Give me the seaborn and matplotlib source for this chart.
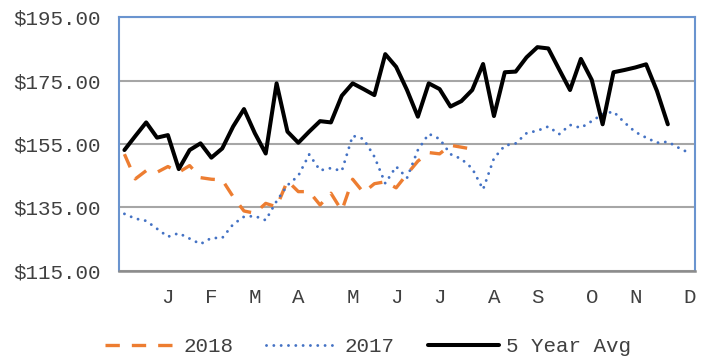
import matplotlib
matplotlib.use("Agg")
import matplotlib.pyplot as plt
import seaborn as sns
import pandas as pd

# Weekly slots across the year and the month initials shown under them
weeks = list(range(1, 54))
month_weeks = [5, 9, 13, 17, 22, 26, 30, 35, 39, 44, 48, 53]
month_labels = ["J", "F", "M", "A", "M", "J", "J", "A", "S", "O", "N", "D"]
price_ticks = [115, 135, 155, 175, 195]

# Weekly prices ($)
prices_2018 = [151.8, 144.0, 146.6, 146.1, 147.9, 146.1, 148.2, 144.4, 143.9, 143.7,
               138.4, 133.9, 133.2, 136.3, 135.2, 143.4, 140.0, 140.0, 135.8, 139.5,
               134.0, 143.9, 139.7, 142.5, 143.1, 141.2, 145.5, 149.6, 152.3, 151.9,
               154.6, 154.0, 153.4]

prices_2017 = [133.0, 131.5, 130.8, 128.3, 125.8, 126.9, 125.2, 123.5, 125.4, 125.4,
               129.7, 132.1, 132.3, 131.0, 137.0, 142.0, 145.0, 151.7, 146.7, 147.4,
               146.5, 157.6, 156.6, 151.0, 142.6, 147.9, 144.3, 153.1, 158.2, 156.6,
               151.8, 150.3, 147.3, 140.7, 150.5, 154.5, 155.2, 158.4, 159.2, 160.5,
               158.1, 161.0, 160.1, 162.2, 164.4, 165.2, 161.8, 158.8, 157.0, 155.4,
               155.7, 153.8, 152.1]

prices_5yr = [153.1, 157.5, 161.8, 157.0, 157.8, 147.1, 153.1, 155.2, 150.7, 153.6,
              160.5, 166.0, 158.4, 152.0, 174.1, 158.9, 155.4, 158.9, 162.2, 161.8,
              170.2, 174.1, 172.3, 170.4, 183.3, 179.3, 172.0, 163.6, 174.1, 172.3,
              166.8, 168.5, 172.0, 180.2, 163.8, 177.6, 177.8, 182.3, 185.5, 185.1,
              178.5, 172.0, 181.8, 175.2, 161.2, 177.6, 178.3, 179.1, 180.1, 171.7,
              161.2]

sns.set_theme(style="white")
plt.rcParams["font.family"] = ["Liberation Mono", "DejaVu Sans"]

text_color = "#404040"
fig = plt.figure(figsize=(7.07, 3.62), dpi=100)
ax = fig.add_axes([119 / 707, 1 - 271 / 362, 576 / 707, 254 / 362])


def weekly_frame(values):
    return pd.DataFrame({"week": weeks[:len(values)], "price": values})


sns.lineplot(data=weekly_frame(prices_2018), x="week", y="price", ax=ax,
             color="#ED7D31", lw=2.4, linestyle=(0, (4.3, 3.6)),
             label="2018", zorder=2)
sns.lineplot(data=weekly_frame(prices_2017), x="week", y="price", ax=ax,
             color="#4472C4", lw=2.1, linestyle=(0, (0.01, 2.5)),
             dash_capstyle="round", label="2017", zorder=3)
sns.lineplot(data=weekly_frame(prices_5yr), x="week", y="price", ax=ax,
             color="black", lw=2.9, label="5 Year Avg", zorder=4)

ax.set_xlim(0.5, 53.5)
ax.set_ylim(price_ticks[0], price_ticks[-1])
ax.set_xticks(month_weeks)
ax.set_xticklabels(month_labels)
ax.set_yticks(price_ticks)
ax.set_yticklabels([f"\\${v:.2f}" for v in price_ticks])
ax.set_xlabel("")
ax.set_ylabel("")

ax.yaxis.grid(True, color="#a6a6a6", lw=1.5)
ax.xaxis.grid(False)
ax.set_axisbelow(True)

for side in ("top", "left", "right"):
    ax.spines[side].set_color("#6a94cf")
    ax.spines[side].set_linewidth(1.5)
ax.spines["bottom"].set_color("#8c8c8c")
ax.spines["bottom"].set_linewidth(1.8)

ax.tick_params(axis="y", length=0, pad=13, labelsize=15, labelcolor=text_color)
ax.tick_params(axis="x", length=0, pad=12, labelsize=15, labelcolor=text_color)

handles, labels = ax.get_legend_handles_labels()
ax.get_legend().remove()
fig.legend(handles, labels, loc="center", bbox_to_anchor=(368 / 707, 1 - 347 / 362),
           ncol=3, frameon=False, fontsize=15, labelcolor=text_color,
           handlelength=3.4, handletextpad=0.35, columnspacing=1.6,
           borderpad=0.1)

fig.savefig("out.png", dpi=100)
